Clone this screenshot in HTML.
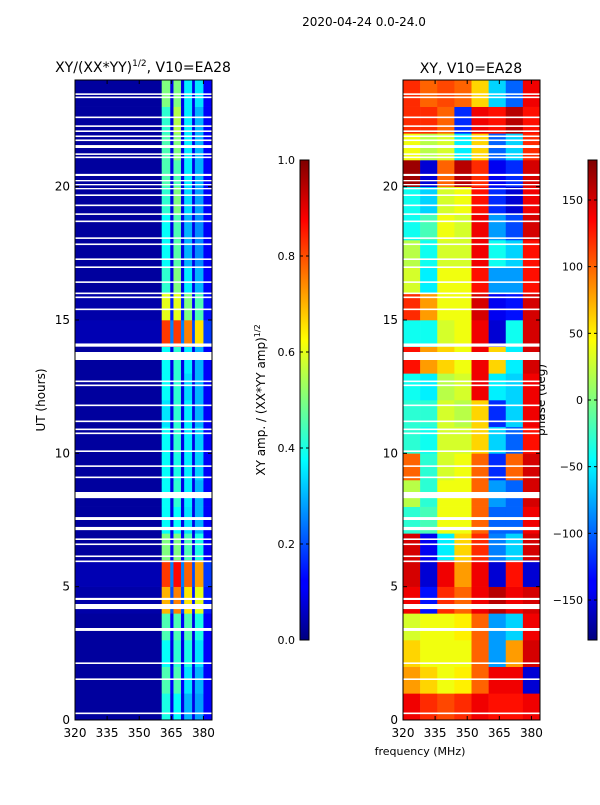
<!DOCTYPE html>
<html><head><meta charset="utf-8"><style>
body{margin:0;background:#fff}
svg text{font-family:"DejaVu Sans","Liberation Sans",sans-serif;fill:#000}
</style></head><body>
<svg id="fig" width="600" height="800" xmlns="http://www.w3.org/2000/svg">
<defs>
<linearGradient id="jet" x1="0" y1="1" x2="0" y2="0">
<stop offset="0" stop-color="#00007f"/><stop offset="0.11" stop-color="#0000ff"/><stop offset="0.125" stop-color="#0000ff"/>
<stop offset="0.34" stop-color="#00ddff"/><stop offset="0.375" stop-color="#00ffff"/><stop offset="0.5" stop-color="#7fff7f"/>
<stop offset="0.625" stop-color="#ffff00"/><stop offset="0.66" stop-color="#ffdd00"/><stop offset="0.875" stop-color="#ff0000"/><stop offset="1" stop-color="#7f0000"/>
</linearGradient>
</defs>
<text x="364" y="26" font-size="12" text-anchor="middle">2020-04-24 0.0-24.0</text>
<text x="143" y="72" font-size="14" text-anchor="middle">XY/(XX*YY)<tspan font-size="9" dy="-6">1/2</tspan><tspan dy="6">, V10=EA28</tspan></text>
<text x="471" y="73" font-size="14" text-anchor="middle">XY, V10=EA28</text>
<text transform="translate(45,400) rotate(-90)" font-size="12" text-anchor="middle">UT (hours)</text>
<text transform="translate(265,400) rotate(-90)" font-size="12" text-anchor="middle">XY amp. / (XX*YY amp)<tspan font-size="8" dy="-5">1/2</tspan></text>
<text transform="translate(545,400) rotate(-90)" font-size="12" text-anchor="middle">phase (deg)</text>
<text x="420" y="755" font-size="11" text-anchor="middle">frequency (MHz)</text>
<g id="left"></g>
<g id="right"></g>
<g id="cbs"></g>
</svg>
<script>
const ampBins=[320,360.5,364.5,366,369.5,371,374.7,376,380,384];
const ampRows=[
[.03,.4,.1,.38,.1,.3,.1,.28,.12],[.03,.45,.12,.45,.12,.35,.1,.3,.12],[.03,.38,.1,.42,.1,.4,.1,.35,.12],
[.03,.45,.12,.45,.12,.45,.1,.4,.12],[.04,.7,.2,.75,.2,.65,.15,.6,.15],[.05,.82,.25,.87,.25,.78,.2,.72,.18],
[.03,.5,.12,.5,.12,.45,.1,.4,.12],[.03,.38,.1,.38,.1,.35,.1,.3,.12],[.03,.38,.1,.42,.1,.36,.1,.3,.12],
[.03,.38,.1,.4,.1,.36,.1,.33,.12],[.03,.38,.1,.42,.1,.36,.1,.33,.12],[.03,.35,.1,.42,.1,.36,.1,.3,.12],
[.03,.38,.1,.42,.1,.34,.1,.3,.12],[.03,.38,.1,.42,.1,.36,.1,.3,.12],[.05,.82,.25,.82,.25,.75,.2,.65,.18],
[.04,.6,.15,.6,.15,.5,.12,.45,.14],[.03,.42,.1,.5,.1,.36,.1,.3,.12],[.03,.38,.1,.46,.1,.3,.1,.26,.12],
[.03,.38,.1,.45,.1,.3,.1,.26,.12],[.03,.42,.1,.5,.1,.34,.1,.28,.12],[.03,.45,.1,.45,.1,.36,.1,.3,.12],
[.03,.45,.1,.5,.1,.36,.1,.3,.12],[.03,.42,.1,.55,.1,.36,.1,.3,.12],[.03,.5,.1,.5,.1,.36,.1,.35,.12]];
const phaseBins=[320,328,336,344,352,360,368,376,384];
const phaseRows=[
[140,120,110,120,140,130,130,140],[80,60,40,50,100,140,140,-150],[60,40,40,40,100,-80,80,150],
[30,40,40,50,100,-80,-60,140],[140,-130,120,100,140,160,140,150],[150,-150,140,80,140,-150,130,-150],
[150,-140,-50,60,120,-90,-60,150],[-30,-20,40,40,100,-100,-100,140],[20,-30,40,40,100,-80,-100,150],
[100,-30,30,40,100,-120,100,150],[-30,-40,30,30,60,-60,-100,130],[-30,-30,30,20,60,-120,-60,140],
[-40,-50,20,30,140,-50,-60,140],[130,80,60,40,140,60,-50,150],[-40,-40,30,40,140,-150,-40,150],
[120,80,40,40,150,-140,-130,150],[30,-50,40,40,130,-80,-80,130],[20,-40,30,30,140,-40,-60,130],
[-40,-20,40,30,140,-80,-110,150],[-40,-60,30,40,130,-120,-150,140],[170,-150,100,160,120,-140,-120,150],
[40,20,30,-50,60,-100,-60,120],[120,120,100,-120,140,130,160,130],[120,100,110,100,60,-60,-100,140]];
const gapHours=[23.44,23.32,22.57,22.24,22.05,21.86,21.71,21.45,21.19,21.07,20.4,20.2,20.05,19.9,19.65,19.27,18.94,18.67,18.04,17.81,17.25,16.95,16.39,15.97,15.82,15.37,14.0,13.5,12.67,12.52,11.77,11.17,10.87,10.72,10.05,9.49,9.07,8.32,7.5,7.12,6.75,6.56,6.11,5.92,4.5,4.16,3.34,2.1,1.5,0.22];
const gapDur=[.06,.06,.06,.06,.06,.06,.06,.11,.06,.06,.08,.05,.05,.05,.06,.06,.06,.06,.06,.06,.06,.06,.06,.06,.06,.06,.12,.3,.06,.06,.06,.06,.06,.06,.06,.06,.06,.23,.11,.12,.06,.06,.06,.06,.08,.19,.11,.06,.06,.06];
const yTicks=[0,5,10,15,20];
const xTicks=[320,335,350,365,380];
const ampTicks=[0.0,0.2,0.4,0.6,0.8,1.0];
const phaseTicks=[-150,-100,-50,0,50,100,150];

const NS='http://www.w3.org/2000/svg';
function jet(v){v=Math.max(0,Math.min(1,v));
 const r=Math.max(0,Math.min(1,1.5-Math.abs(4*v-3))),g=Math.max(0,Math.min(1,1.5-Math.abs(4*v-2))),b=Math.max(0,Math.min(1,1.5-Math.abs(4*v-1)));
 return `rgb(${Math.round(r*255)},${Math.round(g*255)},${Math.round(b*255)})`;}
function mk(tag,attrs,parent){const e=document.createElementNS(NS,tag);for(const k in attrs)e.setAttribute(k,attrs[k]);parent.appendChild(e);return e;}
const yS=h=>720-h*(640/24);
function panel(gid,x0,bins,rows,norm,cellName){
 const g=document.getElementById(gid);
 const xS=f=>x0+(f-320)*(137/64);
 rows.forEach((row,r)=>{row.forEach((v,c)=>{
  const e=mk('rect',{x:xS(bins[c]),y:yS(r+1),width:xS(bins[c+1])-xS(bins[c])+0.3,height:640/24+0.3,fill:jet(norm(v))},g);
  
  
 });});
 gapHours.forEach((h,i)=>{
  const e=mk('rect',{x:x0,y:yS(h+gapDur[i]),width:137,height:gapDur[i]*640/24,fill:'#fff'},g);
  
  
 });
 const fr=mk('rect',{x:x0,y:80,width:137,height:640,fill:'none',stroke:'#000','stroke-width':1},g);
 
 
 yTicks.forEach(t=>{const y=yS(t);
  mk('line',{x1:x0,x2:x0+4,y1:y,y2:y,stroke:'#000'},g);mk('line',{x1:x0+137,x2:x0+133,y1:y,y2:y,stroke:'#000'},g);
  const tx=mk('text',{x:x0-5,y:y+4,'font-size':12,'text-anchor':'end'},g);tx.textContent=t;
  
  });
 xTicks.forEach(t=>{const x=xS(t);
  mk('line',{x1:x,x2:x,y1:720,y2:716,stroke:'#000'},g);mk('line',{x1:x,x2:x,y1:80,y2:84,stroke:'#000'},g);
  const tx=mk('text',{x:x,y:737,'font-size':12,'text-anchor':'middle'},g);tx.textContent=t;
  
  });
}
panel('left',75,ampBins,ampRows,v=>v,'amp-cell');
panel('right',403,phaseBins,phaseRows,v=>(v+180)/360,'phase-cell');
function cbar(x,ticks,lo,hi,fmt,name){
 const g=document.getElementById('cbs');
 const r=mk('rect',{x:x,y:160,width:9,height:480,fill:'url(#jet)',stroke:'#000','stroke-width':1},g);
 
 
 ticks.forEach(t=>{const y=640-(t-lo)/(hi-lo)*480;
  mk('line',{x1:x,x2:x+3,y1:y,y2:y,stroke:'#000'},g);mk('line',{x1:x+9,x2:x+6,y1:y,y2:y,stroke:'#000'},g);
  const tx=mk('text',{x:x-5,y:y+4,'font-size':11,'text-anchor':'end'},g);tx.textContent=fmt(t);
  
  });
}
cbar(300,ampTicks,0,1,t=>t.toFixed(1),'amp-colorbar');
cbar(588,phaseTicks,-180,180,t=>t<0?'\u2212'+(-t):String(t),'phase-colorbar');
</script>
</body></html>
